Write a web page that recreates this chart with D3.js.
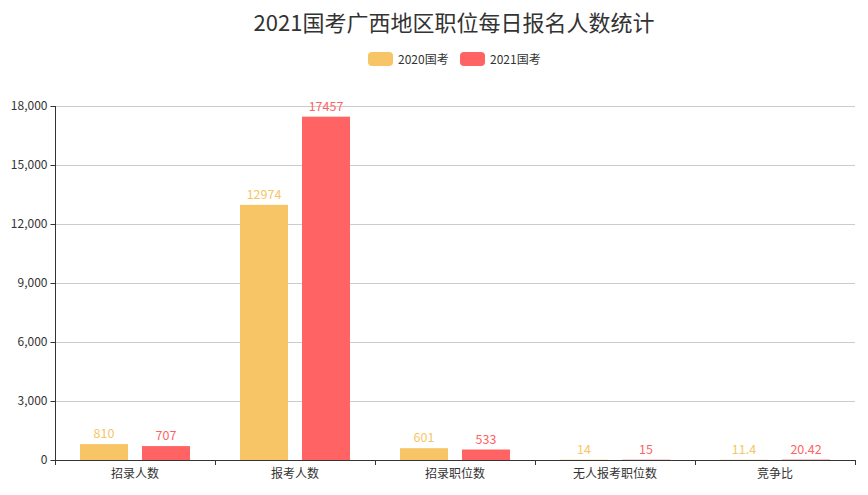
<!DOCTYPE html>
<html><head><meta charset="utf-8">
<script src="https://cdn.jsdelivr.net/npm/d3@7"></script>
<style>body{margin:0;background:#fff;}svg{display:block;font-family:"Noto Sans CJK SC","Microsoft YaHei",sans-serif;}</style>
</head><body>
<svg id="c" width="868" height="495"></svg>
<script>
const categories = ["招录人数","报考人数","招录职位数","无人报考职位数","竞争比"];
const seriesNames = ["2020国考","2021国考"];
const values2020 = [810,12974,601,14,11.4];
const values2021 = [707,17457,533,15,20.42];
const yTicks = [0,3000,6000,9000,12000,15000,18000];
const colors = ["#F7C565","#FF6363"];
const titleText = "2021国考广西地区职位每日报名人数统计";

const svg = d3.select("#c");
const m = {l:55, r:855, t:106, b:460};
const x = d3.scaleBand().domain(categories).range([m.l, m.r]);
const y = d3.scaleLinear().domain([0,18000]).range([m.b, m.t]);

// grid
svg.append("g").selectAll("line").data(yTicks.filter(d=>d>0)).join("line")
  .attr("x1", m.l).attr("x2", m.r).attr("y1", d=>y(d)+0.5).attr("y2", d=>y(d)+0.5)
  .attr("stroke","#ccc").attr("stroke-width",1);

// y axis
const ya = svg.append("g").attr("transform",`translate(${m.l+0.5},0)`)
  .call(d3.axisLeft(y).tickValues(yTicks).tickFormat(d3.format(",")).tickSize(5).tickPadding(3));
ya.select(".domain").attr("stroke","#333").attr("d",`M0,${m.t}V${m.b}`);
ya.selectAll(".tick line").attr("stroke","#333");
ya.selectAll(".tick text").attr("fill","#333").style("font-size","12px").style("font-family","'Noto Sans CJK SC',sans-serif");

// bars
const bw = 48, gap = 14;
const series = [values2020, values2021];
series.forEach((vals, si) => {
  const g = svg.append("g");
  const off = (x.bandwidth() - (2*bw+gap))/2 + si*(bw+gap);
  g.selectAll("rect").data(vals).join("rect")
    .attr("x",(d,i)=>x(categories[i])+off)
    .attr("y",d=>y(d))
    .attr("width",bw)
    .attr("height",d=>m.b-y(d))
    .attr("fill",colors[si]);
  g.selectAll("text").data(vals).join("text")
    .attr("x",(d,i)=>x(categories[i])+off+bw/2)
    .attr("y",d=>y(d)-6)
    .attr("text-anchor","middle")
    .attr("fill",colors[si])
    .style("font-size","12.5px")
    .text(d=>d);
});

// x axis
const xa = svg.append("g").attr("transform",`translate(0,${m.b+0.5})`)
  .call(d3.axisBottom(x).tickSize(0).tickPadding(9));
xa.select(".domain").attr("stroke","#333").attr("d",`M${m.l},0H${m.r}`);
xa.selectAll(".tick text").attr("fill","#333").style("font-size","12px").style("font-family","'Noto Sans CJK SC',sans-serif");
svg.append("g").selectAll("line").data(d3.range(categories.length+1)).join("line")
  .attr("x1",i=>m.l+i*x.bandwidth()+0.5).attr("x2",i=>m.l+i*x.bandwidth()+0.5)
  .attr("y1",m.b).attr("y2",m.b+5).attr("stroke","#333");

// title
svg.append("text").attr("x",454).attr("y",31).attr("text-anchor","middle")
  .attr("fill","#333").style("font-size","22px").text(titleText);

// legend
const lg = svg.append("g");
const legX = [368, 460];
seriesNames.forEach((n,i)=>{
  lg.append("rect").attr("x",legX[i]).attr("y",52).attr("width",25).attr("height",14).attr("rx",4).attr("fill",colors[i]);
  lg.append("text").attr("x",legX[i]+30).attr("y",63.5).attr("fill","#333").style("font-size","12px").text(n);
});
</script>
</body></html>
